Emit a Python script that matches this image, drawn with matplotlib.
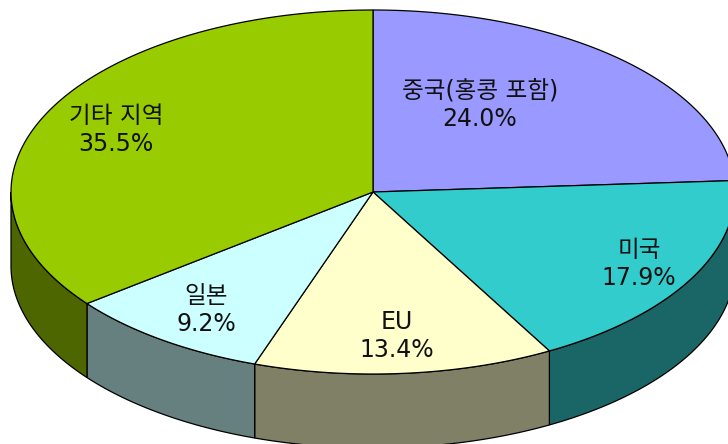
import numpy as np
import matplotlib
matplotlib.use("Agg")
import matplotlib.pyplot as plt

plt.rcParams['font.family'] = ['DejaVu Sans', 'Noto Sans CJK KR']

labels = ["중국(홍콩 포함)", "미국", "EU", "일본", "기타 지역"]
values = [24.0, 17.9, 13.4, 9.2, 35.5]
top_colors = ["#9999ff", "#33cccc", "#ffffcc", "#ccffff", "#99cc00"]
side_colors = ["#4d4d80", "#1a6666", "#808066", "#668080", "#4d6600"]
label_pos = [(480, 105), (639, 264), (397, 336), (206, 310), (116, 130)]

CX, CY = 373, 192
RX, RY = 362, 182
DEPTH = 74


def ell(deg):
    t = np.radians(deg)
    return CX + RX * np.sin(t), CY - RY * np.cos(t)


fig = plt.figure(figsize=(7.28, 4.44), dpi=100)
ax = fig.add_axes([0, 0, 1, 1])
ax.set_xlim(0, 728)
ax.set_ylim(444, 0)
ax.axis("off")

edges = np.cumsum([0] + values) * 3.6

# side walls, only the front half of the ellipse shows
for i in range(len(values)):
    a0, a1 = max(edges[i], 90), min(edges[i + 1], 270)
    if a1 <= a0:
        continue
    t = np.linspace(a0, a1, 80)
    x, y = ell(t)
    ax.fill(np.r_[x, x[::-1]], np.r_[y, y[::-1] + DEPTH],
            facecolor=side_colors[i], edgecolor="black", linewidth=0.9, zorder=2)

# top face
for i in range(len(values)):
    t = np.linspace(edges[i], edges[i + 1], 120)
    x, y = ell(t)
    ax.fill(np.r_[CX, x], np.r_[CY, y],
            facecolor=top_colors[i], edgecolor="black", linewidth=0.9, zorder=3)

for name, val, (x, y) in zip(labels, values, label_pos):
    ax.text(x, y, f"{name}\n{val:.1f}%", ha="center", va="center", fontsize=17,
            linespacing=1.22, color="#111111", zorder=4)

fig.savefig("out.png", dpi=100, facecolor="white")
